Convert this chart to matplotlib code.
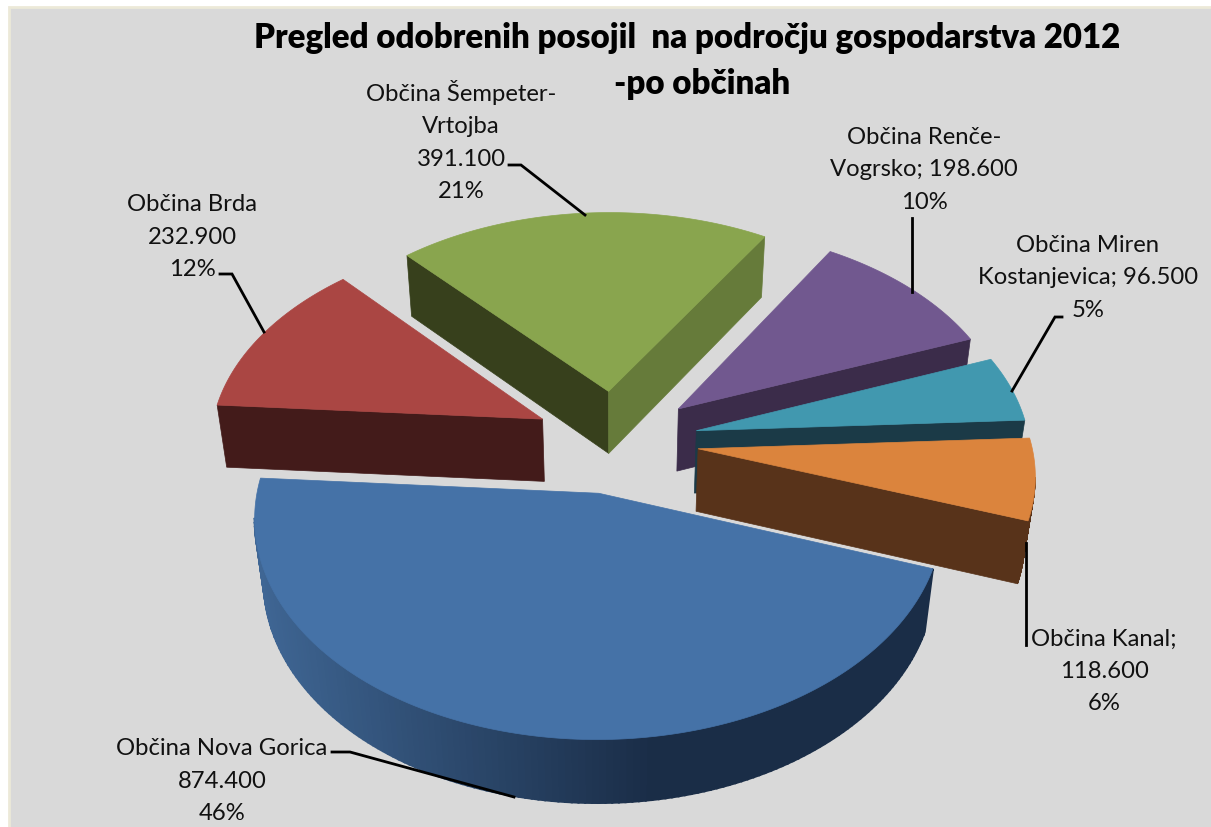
import numpy as np
import matplotlib
matplotlib.use("Agg")
import matplotlib.pyplot as plt
from matplotlib.patches import Polygon, Rectangle

plt.rcParams['font.family'] = ['Lato', 'DejaVu Sans']

# data, clockwise from the left edge of the pie
names = ["Brda", "Šempeter", "Renče", "Miren", "Kanal", "Nova Gorica"]
values = [232900, 391100, 198600, 96500, 118600, 874400]
percents = [12, 21, 10, 5, 6, 46]
label_forms = [
    "Občina Brda\n{v}\n{p}%",
    "Občina Šempeter-\nVrtojba\n{v}\n{p}%",
    "Občina Renče-\nVogrsko; {v}\n{p}%",
    "Občina Miren\nKostanjevica; {v}\n{p}%",
    "Občina Kanal;\n{v}\n{p}%",
    "Občina Nova Gorica\n{v}\n{p}%",
]
title_lines = ["Pregled odobrenih posojil  na področju gospodarstva 2012", "-po občinah"]

# styles
top_colors = ["#aa4643", "#89a54e", "#71588f", "#4198af", "#db843d", "#4572a7"]
start_wall = ["#431b1a", "#667b3a", "#3b2c4a", "#1b3a47", "#58331a", "#1a2e47"]  # clockwise edge
end_wall = ["#431b1a", "#37401c", "#3b2c4a", "#1b3a47", "#58331a", "#1a2e47"]
rim_left = "#3f6694"
rim_right = "#1a2d47"

# layout: camera and pie, in pixels
cx, cy = 616, 441.4
ax_x, ax_y = 333, 208   # radius on screen
persp = 0.107           # perspective with depth of the plane
persp_z = 0.025         # bottom face is a bit smaller
depth = 64
explode = 0.248
start_angle = 176

label_pos = [(192, 237), (461, 141), (924, 170), (1088, 278), (1104, 671), (222, 781)]
leaders = [
    [(220, 274), (232, 274), (264, 332)],
    [(509, 165), (521, 165), (585, 215)],
    [(912, 218), (912, 292)],
    [(1062, 317), (1055, 317), (1012, 391)],
    [(1026, 645), (1026, 543)],
    [(332, 752), (350, 752), (514, 797)],
]


def project(X, Y, z=0.0):
    w = 1 + persp * Y + persp_z * z
    return cx + ax_x * X / w, cy - (ax_y * Y - depth * z) / w


def mix(c1, c2, t):
    a = np.array(matplotlib.colors.to_rgb(c1))
    b = np.array(matplotlib.colors.to_rgb(c2))
    return tuple(a + (b - a) * t)


def above_line(p, q, inside):
    # True when the slice lies above edge p-q on screen, so the wall under it shows
    if abs(q[0] - p[0]) < 1e-6:
        return False
    y_line = p[1] + (q[1] - p[1]) * (inside[0] - p[0]) / (q[0] - p[0])
    return inside[1] < y_line


def wall(ax, p, q, color, lw=0.5):
    quad = [project(*p), project(*q), project(q[0], q[1], 1), project(p[0], p[1], 1)]
    ax.add_patch(Polygon(quad, closed=True, fc=color, ec=color, lw=lw))


fig = plt.figure(figsize=(12.11, 8.27), dpi=100, facecolor="white")
ax = fig.add_axes([0, 0, 1, 1])
ax.set_xlim(0, 1211)
ax.set_ylim(827, 0)
ax.axis("off")
ax.add_patch(Rectangle((9, 7), 1210, 830, fc="#d9d9d9", ec="#ece9d8", lw=2))

fractions = np.array(values) / sum(values)
sweeps = fractions * 360
starts = start_angle - np.concatenate([[0], np.cumsum(sweeps)[:-1]])

# far slices first
mids = np.radians(starts - sweeps / 2)
order = np.argsort(-np.sin(mids))

for i in order:
    a0 = starts[i]
    a1 = a0 - sweeps[i]
    ox, oy = explode * np.cos(mids[i]), explode * np.sin(mids[i])
    th = np.radians(np.linspace(a0, a1, 160))
    rim = np.column_stack([ox + np.cos(th), oy + np.sin(th)])
    apex = (ox, oy)
    inside = project(ox + 0.5 * np.cos(mids[i]), oy + 0.5 * np.sin(mids[i]))

    # cut faces
    for edge, color in ((rim[0], end_wall[i]), (rim[-1], start_wall[i])):
        if above_line(project(*apex), project(*edge), inside):
            wall(ax, apex, edge, color)

    # outer wall, the big slice gets the shading from left to right
    for k in range(len(rim) - 1):
        if above_line(project(*rim[k]), project(*rim[k + 1]), inside):
            if i == len(values) - 1:
                t = np.clip((project(*rim[k])[0] - 255) / 400, 0, 1)
                wall(ax, rim[k], rim[k + 1], mix(rim_left, rim_right, t), lw=1.5)
            else:
                wall(ax, rim[k], rim[k + 1], start_wall[i])

    # top
    pts = [project(*apex)] + [project(*r) for r in rim]
    ax.add_patch(Polygon(pts, closed=True, fc=top_colors[i], ec=top_colors[i], lw=0.5))

# leader lines and labels
for i in range(len(values)):
    xs, ys = zip(*leaders[i])
    ax.plot(xs, ys, color="black", lw=2.0, solid_joinstyle="miter")
    v = f"{values[i]:,}".replace(",", ".")
    ax.text(label_pos[i][0], label_pos[i][1], label_forms[i].format(v=v, p=percents[i]),
            ha="center", va="center", fontsize=17.2, linespacing=1.65, color="#111111")

ax.text(687, 38, title_lines[0], ha="center", va="center", fontsize=23.8, fontweight="heavy")
ax.text(702, 84, title_lines[1], ha="center", va="center", fontsize=23.8, fontweight="heavy")

fig.savefig("out.png", dpi=100, facecolor="white")
